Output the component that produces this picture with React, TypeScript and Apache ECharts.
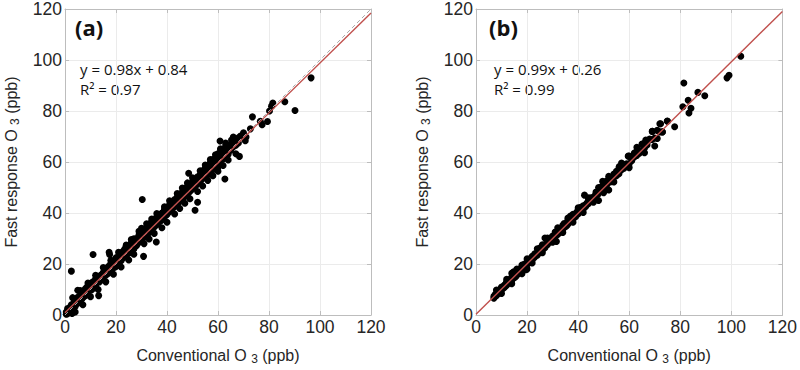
import React, { useEffect, useRef } from "react";
import * as echarts from "echarts";

const tickValues = [0, 20, 40, 60, 80, 100, 120];

// Panel (a): dense core band and scattered points
const aCore: number[][] = [
[0.5,1.2],[0.5,0.3],[1,2.5],[1,0.5],[1.5,1.0],[2,3.1],[2,1.6],[2.5,2.0],[2.5,4.0],[3,3.6],[3,2.4],[3.5,4.9],[4,4.2],[4,5.6],[4,3.3],[4.5,5.8],[5,5.1],[5,6.9],[5,4.6],[5.5,6.3],[6,7.8],[6,5.9],[6,6.6],[6.5,8.9],[6.5,6.2],[7,7.4],[7,8.3],[7,6.8],[7.5,9.6],[7.5,8.0],[8,9.1],[8,7.6],[8,10.3],[8.5,9.0],[8.5,10.8],[9,10.2],[9,8.7],[9,11.4],[9.5,11.0],[9.5,9.5],[10,12.2],[10,10.1],[10,11.3],[10.5,12.6],[10.5,9.9],[11,11.4],[11,13.0],[11,10.6],[11.5,12.9],[11.5,11.7],[12,13.5],[12,12.0],[12,14.2],[12,11.3],[12.5,12.6],[12.5,14.6],[13,14.0],[13,13.1],[13,15.1],[13.5,14.9],[13.5,13.0],[14,15.6],[14,14.2],[14,13.6],[14.5,16.0],[14.5,14.5],[15,16.7],[15,15.1],[15,13.9],[15.5,15.7],[15.5,17.3],[16,17.0],[16,15.6],[16,18.2],[16,16.3],[16.5,18.0],[16.5,16.1],[17,17.6],[17,19.0],[17,16.4],[17.5,18.6],[17.5,17.0],[18,19.9],[18,18.2],[18,17.4],[18,20.3],[18.5,19.4],[18.5,18.0],[19,20.6],[19,19.2],[19,21.3],[19.5,20.2],[19.5,18.7],[20,21.0],[20,20.2],[20,22.4],[20,19.0],[20.5,21.8],[20.5,20.6],[21,22.3],[21,20.5],[21,23.1],[21.5,21.5],[21.5,22.9],[22,23.5],[22,22.0],[22,24.2],[22,21.3],[22.5,22.9],[22.5,24.6],[23,23.8],[23,25.2],[23,22.5],[23.5,24.3],[23.5,26.0],[24,24.9],[24,23.5],[24,26.4],[24,25.4],[24.5,25.6],[24.5,24.0],[25,26.8],[25,25.3],[25,24.2],[25.5,26.0],[25.5,27.4],[26,27.0],[26,25.7],[26,28.3],[26,26.4],[26.5,27.8],[26.5,26.0],[27,28.6],[27,27.0],[27,25.9],[27,29.9],[27.5,27.8],[27.5,29.2],[28,28.7],[28,27.2],[28,30.0],[28.5,29.5],[28.5,28.0],[29,30.3],[29,28.6],[29,31.4],[29,29.2],[29.5,29.9],[29.5,31.6],[30,30.8],[30,29.4],[30,32.6],[30,34.0],[30.5,31.6],[30.5,30.0],[31,32.4],[31,30.6],[31,33.2],[31,31.0],[31.5,32.0],[31.5,33.8],[32,33.2],[32,31.6],[32,34.4],[32.5,33.5],[32.5,32.0],[33,33.8],[33,35.3],[33,32.4],[33,34.6],[33.5,34.3],[33.5,36.0],[34,35.0],[34,33.6],[34,36.4],[34.5,35.8],[34.5,34.2],[35,36.2],[35,34.5],[35,37.6],[35,35.5],[35.5,35.9],[35.5,37.2],[36,36.8],[36,35.4],[36,38.2],[36.5,37.7],[36.5,36.0],[37,38.6],[37,36.6],[37,37.4],[37,39.3],[37.5,38.1],[37.5,37.0],[38,38.6],[38,37.3],[38,40.0],[38.5,39.5],[38.5,38.0],[39,40.5],[39,38.6],[39,39.4],[39,41.4],[39.5,40.3],[39.5,39.0],[40,40.6],[40,39.4],[40,42.0],[40.5,41.4],[40.5,40.2],[41,42.6],[41,40.6],[41,41.6],[41,43.2],[41.5,41.8],[41.5,40.9],[42,42.8],[42,41.4],[42,44.0],[42.5,43.4],[42.5,42.2],[43,44.6],[43,42.6],[43,43.2],[43,45.3],[43.5,43.8],[43.5,42.9],[44,44.9],[44,43.5],[44,46.2],[44.5,45.3],[44.5,44.0],[45,46.8],[45,44.6],[45,45.6],[45,47.4],[45.5,45.9],[45.5,44.9],[46,47.0],[46,45.4],[46,48.1],[46.5,47.7],[46.5,46.0],[47,48.9],[47,46.6],[47,47.4],[47,49.7],[47.5,48.1],[47.5,47.0],[48,49.2],[48,47.3],[48,50.3],[48.5,49.6],[48.5,48.0],[49,50.8],[49,48.5],[49,49.6],[49,51.4],[49.5,50.0],[49.5,49.0],[50,51.1],[50,49.5],[50,52.3],[50.5,51.7],[50.5,50.0],[51,52.9],[51,50.5],[51,51.5],[51,53.3],[51.5,52.0],[51.5,51.0],[52,53.1],[52,51.5],[52,54.2],[52.5,53.7],[52.5,52.3],[53,55.0],[53,52.6],[53,53.9],[53.5,54.6],[53.5,53.0],[54,55.5],[54,53.6],[54,56.6],[55,56.3],[55,54.5],[55,57.5],[56,57.6],[56,55.0],[56,58.6],[57,58.0],[57,56.4],[57,59.8],[58,59.9],[58,57.0],[58,61.0],[59,60.1],[59,58.3],[59,61.6],[60,61.7],[60,59.3],[60,63.2],[60,58.0],[61,62.3],[61,60.5],[61,64.8],[62,63.8],[62,61.2],[62,65.0],[63,64.2],[63,62.6],[63,66.3],[64,65.3],[64,63.0],[65,66.8],[65,64.6],[65,65.6],[66,66.0],[66,67.9],[67,68.7],[67,66.6],[68,67.5],[68,69.5],[70,70.0],[70,71.5],[71,69.8]
];

const aSpread: number[][] = [
[3,6.8],[4,1.2],[6,9.6],[7,4.0],[9,12.5],[10,7.2],[12,15.6],[13,10.0],[15,18.6],[16,13.0],[18,21.5],[19,16.0],[21,24.6],[22,18.8],[24,27.4],[25,21.6],[26,29.6],[27,23.8],[29,32.8],[31,28.0],[32,35.8],[33,29.8],[34,37.6],[35,32.0],[36,39.8],[38,34.2],[39,42.4],[40,36.4],[41,44.8],[43,39.6],[44,47.6],[45,41.8],[46,49.8],[47,43.8],[48,51.8],[49,45.6],[50,53.8],[52,48.4],[53,56.6],[54,50.6],[55,58.8],[56,52.8],[57,61.0],[58,54.6],[59,62.8],[60,56.4],[61,65.2],[62,58.6],[63,67.4],[64,60.8],[66,69.8],[67,63.2]
];

const aOutliers: number[][] = [
[96.5,93],[90.2,80.2],[86.2,83.6],[81.5,83.1],[81,81.9],[80.2,80],[73.5,77.7],[79.4,75.9],[77.3,74.6],[76.6,76],[72.7,73],[68.8,70.2],[70.7,68.3],[60.8,68.2],[65.3,68.6],[68.4,62.2],[62.7,53.3],[48.5,55.6],[2.5,17.2],[11,23.7],[17.3,24.6],[17.5,23.7],[30.3,45.3],[30.8,23],[13.2,7.6],[5,9.7],[2.8,0.6],[51,41.1],[52,44.2],[35.8,28.6]
];

// Panel (b)
const bCore: number[][] = [
[7,7.3],[7,6.6],[7.5,8.0],[8,8.4],[8,7.6],[8.5,9.0],[8.5,8.2],[9,9.4],[9,8.7],[9.5,10.2],[9.5,9.2],[10,10.4],[10,9.8],[10,11.0],[10.5,10.6],[11,11.6],[11,10.7],[11.5,12.0],[11.5,11.3],[12,12.5],[12,11.7],[12,13.0],[12.5,12.4],[13,13.6],[13,12.8],[13.5,14.1],[13.5,13.2],[14,14.8],[14,13.6],[14,16.4],[14.5,14.6],[14.5,16.8],[15,15.4],[15,16.9],[15,14.6],[15.5,15.8],[15.5,15.0],[16,16.4],[16,15.6],[16,17.0],[16.5,16.9],[17,17.2],[17,16.6],[17.5,17.6],[17.5,18.3],[18,18.5],[18,17.6],[18,19.6],[18.5,18.8],[19,19.3],[19,18.6],[19,20.0],[19.5,19.6],[19.5,17.8],[20,20.3],[20,19.7],[20,18.0],[20.5,20.9],[21,21.2],[21,20.6],[21.5,22.2],[21.5,21.0],[22,22.4],[22,21.6],[22,23.0],[22.5,22.5],[23,23.2],[23,22.7],[23,24.0],[23.5,23.8],[24,24.4],[24,23.4],[24.5,25.0],[24.5,24.2],[25,25.6],[25,24.6],[25,26.3],[25.5,25.4],[26,26.2],[26,25.5],[26,27.5],[26.5,26.9],[27,27.3],[27,30.2],[27,26.4],[27.5,28.0],[27.5,30.0],[28,28.2],[28,27.6],[28,29.1],[28.5,29.0],[29,29.2],[29,28.6],[29.5,29.8],[29.5,30.3],[30,30.5],[30,29.6],[30,31.0],[30.5,30.7],[31,31.4],[31,30.6],[31,32.5],[31.5,31.8],[31.5,28.8],[32,32.0],[32,32.9],[32,31.6],[32.5,32.7],[32.5,34.0],[33,33.4],[33,32.5],[33.5,34.1],[33.5,33.0],[34,34.2],[34,33.6],[34,35.2],[34.5,34.8],[34.5,35.9],[35,35.4],[35,34.6],[35.5,36.1],[35.5,35.0],[36,36.2],[36,35.6],[36,37.3],[36.5,36.8],[37,37.6],[37,36.6],[37,38.8],[37.5,37.9],[38,38.4],[38,37.6],[38,39.5],[38.5,38.7],[39,39.6],[39,38.5],[39.5,39.8],[39.5,40.4],[40,40.2],[40,39.6],[40,41.0],[40.5,40.7],[41,41.4],[41,40.6],[41,42.2],[41.5,41.6],[42,42.0],[42,42.8],[42,41.5],[42.5,42.7],[42.5,47.0],[43,43.3],[43,42.6],[43.5,43.9],[44,44.2],[44,43.6],[44,44.9],[44.5,44.4],[45,45.1],[45,44.6],[45,46.0],[45.5,45.6],[46,46.2],[46,45.5],[46.5,46.7],[47,47.5],[47,46.4],[47,48.2],[47.5,47.2],[48,48.4],[48,47.6],[48,44.9],[48.5,48.8],[49,49.2],[49,48.5],[49,50.2],[49.5,49.8],[50,50.6],[50,49.4],[50,51.8],[50.5,50.3],[51,51.2],[51,52.4],[51,50.5],[52,52.0],[52,49.0],[52,53.4],[52.5,52.5],[53,53.6],[53,52.3],[54,54.0],[54,55.3],[55,54.6],[55,56.4],[56,55.4],[56,57.6],[57,57.0],[57,58.2],[58,57.6],[58,58.9],[59,59.3],[59,58.2],[60,59.3],[60,62.3],[61,60.5],[61,61.6],[62,62.0],[62,63.5],[63,62.6],[63,64.3],[64,63.4],[65,64.6],[65,67.0],[66,65.5],[66,67.4],[67,66.7],[67,68.4],[68,68.6],[68,69.0],[69,72.0],[69,68.8],[70,66.3],[70,69.4],[71,69.2],[71,72.4],[72,75.0],[72,71.8],[73,71.8],[75,76.0]
];

const bSpread: number[][] = [
[8,9.8],[10,8.4],[12,14.0],[14,12.3],[16,18.0],[18,16.2],[20,22.0],[22,20.4],[24,26.0],[26,24.4],[28,30.2],[30,28.5],[32,34.2],[34,32.4],[36,38.0],[38,36.4],[40,42.0],[42,40.2],[44,46.0],[46,44.2],[48,50.0],[50,48.0],[52,54.4],[54,52.2],[57,59.6],[60,57.8],[63,65.8],[66,63.6]
];

const bOutliers: number[][] = [
[103.7,101.5],[99.1,94],[98.3,93],[81.4,91],[86.9,87.3],[89.6,86],[83.1,84.2],[81,81.7],[84.2,81.1],[83.4,79.2],[77.8,73.8],[74.9,76.1],[72.3,75],[69.1,72],[73,71.8],[66.5,68.6],[59.6,62.3],[49.6,52.4],[56.1,58.2]
];

// Regression fits
const fitA = { slope: 0.98, intercept: 0.84 };
const fitB = { slope: 0.99, intercept: 0.26 };
const labelsA = ["(a)", "y = 0.98x + 0.84", "R\u00b2 = 0.97"];
const labelsB = ["(b)", "y = 0.99x + 0.26", "R\u00b2 = 0.99"];

const AXIS_MIN = 0;
const AXIS_MAX = 120;

export default function App() {
  const ref = useRef<HTMLDivElement>(null);
  useEffect(() => {
    if (!ref.current) return;
    const chart = echarts.init(ref.current, undefined, { renderer: "svg" });
    const tickColor = "#262626";
    const boxColor = "#bdbdbd";
    const grids = [
      { left: 62, top: 6, width: 309, height: 309 },
      { left: 476, top: 6, width: 308, height: 309 },
    ];
    const nameStyle = {
      fontSize: 16,
      lineHeight: 20,
      color: tickColor,
      fontFamily: "Liberation Sans",
      rich: {
        sub: { fontSize: 12, lineHeight: 12, verticalAlign: "bottom", color: tickColor, fontFamily: "Liberation Sans" },
      },
    };
    const xAxes: any[] = [];
    const yAxes: any[] = [];
    [0, 1].forEach((g) => {
      xAxes.push({
        gridIndex: g,
        type: "value",
        min: AXIS_MIN,
        max: AXIS_MAX,
        interval: 20,
        axisLine: { show: true, onZero: false, lineStyle: { color: boxColor } },
        axisTick: { show: true, inside: true, length: 4, lineStyle: { color: boxColor } },
        axisLabel: { fontSize: 17.5, color: tickColor, fontFamily: "Liberation Sans", margin: 3 },
        splitLine: { show: true, lineStyle: { color: "#ebebeb", width: 1 } },
        name: "Conventional O {sub|3} (ppb)",
        nameLocation: "middle",
        nameGap: 30,
        nameTextStyle: nameStyle,
      });
      xAxes.push({
        gridIndex: g,
        type: "value",
        position: "top",
        min: AXIS_MIN,
        max: AXIS_MAX,
        interval: 20,
        axisLine: { show: true, onZero: false, lineStyle: { color: boxColor } },
        axisTick: { show: true, inside: true, length: 4, lineStyle: { color: boxColor } },
        axisLabel: { show: false },
        splitLine: { show: false },
      });
      yAxes.push({
        gridIndex: g,
        type: "value",
        min: AXIS_MIN,
        max: AXIS_MAX,
        interval: 20,
        axisLine: { show: true, onZero: false, lineStyle: { color: boxColor } },
        axisTick: { show: true, inside: true, length: 4, lineStyle: { color: boxColor } },
        axisLabel: { fontSize: 17.5, color: tickColor, fontFamily: "Liberation Sans", margin: 3 },
        splitLine: { show: true, lineStyle: { color: "#ebebeb", width: 1 } },
        name: "Fast response O {sub|3} (ppb)",
        nameLocation: "middle",
        nameGap: 44,
        nameTextStyle: nameStyle,
      });
      yAxes.push({
        gridIndex: g,
        type: "value",
        position: "right",
        min: AXIS_MIN,
        max: AXIS_MAX,
        interval: 20,
        axisLine: { show: true, onZero: false, lineStyle: { color: boxColor } },
        axisTick: { show: true, inside: true, length: 4, lineStyle: { color: boxColor } },
        axisLabel: { show: false },
        splitLine: { show: false },
      });
    });

    const fitLine = (f: { slope: number; intercept: number }) => [
      [AXIS_MIN, f.slope * AXIS_MIN + f.intercept],
      [AXIS_MAX, f.slope * AXIS_MAX + f.intercept],
    ];

    const scatter = (g: number, data: number[][]) => ({
      type: "scatter",
      xAxisIndex: g * 2,
      yAxisIndex: g * 2,
      data,
      symbol: "circle",
      symbolSize: 7,
      itemStyle: { color: "#000", opacity: 1 },
      silent: true,
      z: 2,
    });

    const texts = (lbls: string[], x: number) => [
      {
        type: "text",
        x,
        y: 27,
        style: { text: lbls[0], fontSize: 22, fontWeight: "bold", fontFamily: "Open Sans", fill: "#111", verticalAlign: "middle" },
      },
      {
        type: "text",
        x: x + 5,
        y: 69,
        style: { text: lbls[1], fontSize: 15, fontFamily: "Open Sans", fill: "#111", verticalAlign: "middle" },
      },
      {
        type: "text",
        x: x + 5,
        y: 89,
        style: { text: lbls[2], fontSize: 15, fontFamily: "Open Sans", fill: "#111", verticalAlign: "middle" },
      },
    ];

    chart.setOption({
      animation: false,
      backgroundColor: "#fff",
      grid: grids,
      xAxis: xAxes,
      yAxis: yAxes,
      series: [
        scatter(0, aCore),
        scatter(0, aSpread),
        scatter(0, aOutliers),
        {
          type: "line",
          xAxisIndex: 0,
          yAxisIndex: 0,
          data: [[AXIS_MIN, AXIS_MIN], [AXIS_MAX, AXIS_MAX]],
          symbol: "none",
          lineStyle: { color: "#a8a8a8", width: 1, type: [4, 3] },
          z: 3,
        },
        {
          type: "line",
          xAxisIndex: 0,
          yAxisIndex: 0,
          data: fitLine(fitA),
          symbol: "none",
          lineStyle: { color: "#c0504d", width: 1.4 },
          z: 4,
        },
        scatter(1, bCore),
        scatter(1, bSpread),
        scatter(1, bOutliers),
        {
          type: "line",
          xAxisIndex: 2,
          yAxisIndex: 2,
          data: fitLine(fitB),
          symbol: "none",
          lineStyle: { color: "#c0504d", width: 1.4 },
          z: 4,
        },
      ],
      graphic: [...texts(labelsA, 75), ...texts(labelsB, 489)],
    });
    return () => chart.dispose();
  }, []);
  return (
    <div
      ref={ref}
      style={{ position: "absolute", left: 0, top: 0, width: 800, height: 370, background: "#fff" }}
    />
  );
}
